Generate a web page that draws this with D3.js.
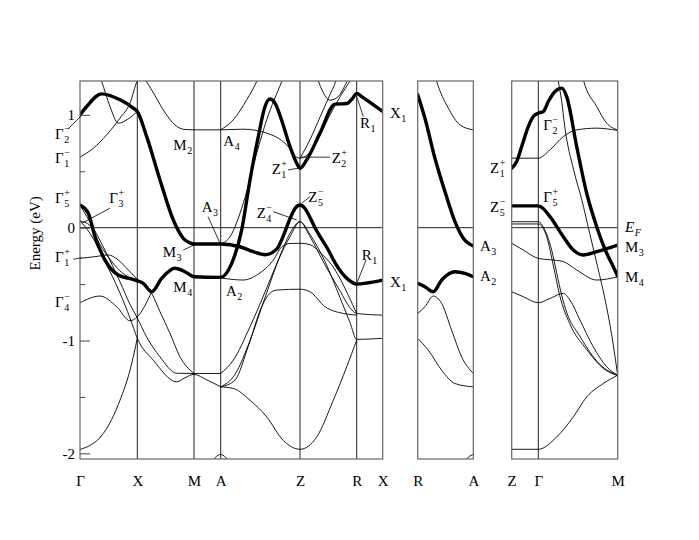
<!DOCTYPE html>
<html>
<head>
<meta charset="utf-8">
<script src="https://cdn.jsdelivr.net/npm/d3@7"></script>
<style>
  body { margin: 0; background: #fff; }
  text { font-family: "Liberation Serif", "Times New Roman", serif; fill: #000; }
</style>
</head>
<body>
<svg id="chart" width="699" height="540"></svg>
<script>
// high symmetry points along each path (k in path-length units)
const mainK = [0, 0.573, 1.14, 1.407, 2.20, 2.767, 3.027];
const mainKLabels = ["Γ", "X", "M", "A", "Z", "R", "X"];
const raK = [0, 1];
const raKLabels = ["R", "A"];
const zgmK = [0, 0.266, 1.06];
const zgmKLabels = ["Z", "Γ", "M"];

const energyMajor = [-2, -1, 0, 1];
const energyMinor = [-1.5, -0.5, 0.5];

// bands: [k, E (eV)]
const mainThick = [
  [[0,1.0],[0.067,1.074],[0.217,1.186],[0.40,1.133],[0.533,1.06],[0.573,1.029],[0.667,0.807],[0.80,0.423],[0.933,0.068],[1.033,-0.094],[1.10,-0.135],[1.14,-0.145],[1.407,-0.145],[1.60,-0.169],[1.733,-0.213],[1.85,-0.24],[1.967,-0.19],[2.03,-0.08],[2.10,0.08],[2.15,0.17],[2.20,0.201],[2.25,0.17],[2.30,0.09],[2.35,0.0],[2.483,-0.198],[2.55,-0.31],[2.617,-0.40],[2.683,-0.46],[2.767,-0.5],[2.883,-0.488],[3.027,-0.464]],
  [[0,0.2],[0.083,0.128],[0.15,-0.08],[0.25,-0.287],[0.383,-0.42],[0.55,-0.464],[0.633,-0.493],[0.717,-0.568],[0.817,-0.449],[0.95,-0.36],[1.05,-0.39],[1.14,-0.435],[1.407,-0.44],[1.517,-0.316],[1.617,-0.02],[1.70,0.423],[1.783,0.807],[1.85,1.074],[1.90,1.14],[1.95,1.104],[2.017,0.95],[2.10,0.719],[2.167,0.571],[2.20,0.527],[2.267,0.601],[2.40,0.838],[2.55,1.095],[2.667,1.10],[2.72,1.14],[2.767,1.19],[2.82,1.16],[2.90,1.11],[3.027,1.03]]
];
const mainThin = [
  [[0,0.625],[0.133,0.704],[0.267,0.823],[0.40,0.971],[0.50,1.104],[0.573,1.30],[0.62,1.34],[0.667,1.29],[0.75,1.17],[0.85,1.02],[0.95,0.91],[1.05,0.87],[1.14,0.867],[1.407,0.867],[1.633,0.873],[1.867,0.838],[2.067,0.734],[2.167,0.625],[2.20,0.616],[2.30,0.67],[2.40,0.82],[2.50,1.00],[2.60,1.16],[2.70,1.30],[2.75,1.37]],
  [[0.19,1.36],[0.217,1.295],[0.30,1.074],[0.383,0.926],[0.467,0.956],[0.573,1.029]],
  [[1.407,0.867],[1.533,0.956],[1.667,1.133],[1.767,1.295],[1.80,1.36]],
  [[1.407,-0.145],[1.50,-0.08],[1.633,0.217],[1.767,0.66],[1.867,0.956],[2.017,1.295],[2.05,1.37]],
  [[2.20,0.616],[2.30,0.78],[2.40,0.98],[2.50,1.18],[2.55,1.28],[2.58,1.37]],
  [[2.36,1.36],[2.42,1.22],[2.50,1.13],[2.58,1.16],[2.66,1.28],[2.70,1.36]],
  [[0,0.2],[0.1,0.05],[0.25,-0.2],[0.40,-0.48],[0.50,-0.68],[0.573,-0.8],[0.667,-0.97],[0.80,-1.145],[0.967,-1.29],[1.14,-1.292],[1.407,-1.292]],
  [[0,0.06],[0.1,-0.05],[0.25,-0.30],[0.40,-0.58],[0.50,-0.80],[0.573,-0.98],[0.733,-1.174],[0.967,-1.366],[1.05,-1.33],[1.14,-1.30],[1.27,-1.35],[1.407,-1.41]],
  [[0,0.06],[0.1,0.02],[0.2,-0.15],[0.3,-0.28],[0.45,-0.42],[0.573,-0.46]],
  [[0,-0.272],[0.15,-0.257],[0.283,-0.242],[0.383,-0.287],[0.483,-0.375],[0.583,-0.464],[0.717,-0.582],[0.80,-0.745],[0.90,-0.937],[1.0,-1.145],[1.14,-1.292]],
  [[0,-0.665],[0.2,-0.606],[0.367,-0.701],[0.50,-0.825],[0.573,-0.79],[0.717,-0.568]],
  [[0,-1.966],[0.233,-1.824],[0.40,-1.529],[0.50,-1.263],[0.573,-0.981]],
  [[1.407,-0.445],[1.633,-0.464],[1.767,-0.42],[1.933,-0.287],[2.017,-0.17],[2.10,-0.14],[2.20,-0.138],[2.30,-0.15],[2.40,-0.22],[2.517,-0.33],[2.60,-0.45],[2.683,-0.6],[2.767,-0.76]],
  [[1.407,-1.292],[1.533,-1.174],[1.70,-0.878],[1.90,-0.464],[1.983,-0.287],[2.10,-0.08],[2.20,0.053],[2.30,-0.06],[2.45,-0.30],[2.60,-0.62],[2.70,-0.84],[2.767,-0.99],[3.027,-0.98]],
  [[1.407,-1.411],[1.55,-1.30],[1.70,-1.0],[1.85,-0.62],[2.0,-0.25],[2.10,-0.05],[2.20,0.053],[2.30,-0.08],[2.45,-0.33],[2.60,-0.56],[2.70,-0.71],[2.767,-0.76],[3.027,-0.775]],
  [[1.407,-1.411],[1.55,-1.35],[1.683,-1.05],[1.817,-0.70],[1.90,-0.58],[1.967,-0.553],[2.20,-0.545],[2.30,-0.568],[2.45,-0.70],[2.633,-0.76],[2.767,-0.775]],
  [[1.407,-1.411],[1.533,-1.425],[1.70,-1.529],[1.867,-1.677],[2.033,-1.886],[2.20,-1.964],[2.367,-1.855],[2.533,-1.529],[2.667,-1.233],[2.767,-0.996]],
  [[1.33,-2.07],[1.35,-2.04],[1.38,-2.017],[1.407,-2.01],[1.43,-2.017],[1.46,-2.04],[1.48,-2.07]]
];

const raThick = [
  [[0,1.178],[0.13,0.97],[0.31,0.616],[0.49,0.32],[0.67,0.053],[0.82,-0.094],[1.0,-0.162]],
  [[0,-0.493],[0.13,-0.524],[0.28,-0.568],[0.43,-0.464],[0.67,-0.39],[0.85,-0.405],[1.0,-0.435]]
];
const raThin = [
  [[0.30,1.37],[0.34,1.30],[0.55,1.06],[0.76,0.911],[1.0,0.867]],
  [[0,-0.76],[0.13,-0.70],[0.28,-0.606],[0.43,-0.671],[0.61,-0.908],[0.79,-1.145],[1.0,-1.292]],
  [[0,-0.981],[0.19,-1.085],[0.43,-1.263],[0.67,-1.381],[1.0,-1.411]],
  [[0.85,-2.07],[0.92,-2.03],[1.0,-2.01]]
];

const zgmThick = [
  [[0,0.527],[0.05,0.586],[0.10,0.719],[0.166,0.896],[0.216,0.985],[0.266,1.015],[0.316,1.029],[0.366,1.118],[0.433,1.207],[0.50,1.237],[0.55,1.162],[0.65,0.719],[0.75,0.305],[0.85,0.009],[0.95,-0.227],[1.016,-0.346],[1.06,-0.43]],
  [[0,0.193],[0.266,0.193],[0.30,0.18],[0.383,0.098],[0.516,-0.08],[0.616,-0.198],[0.716,-0.242],[0.85,-0.213],[1.06,-0.154]]
];
const zgmThin = [
  [[0,0.616],[0.266,0.616],[0.383,0.69],[0.516,0.807],[0.65,0.867],[0.85,0.882],[1.06,0.861]],
  [[0.70,1.37],[0.72,1.30],[0.85,1.074],[0.95,0.926],[1.06,0.867]],
  [[0,0.053],[0.266,0.053],[0.32,0.0],[0.40,-0.20],[0.45,-0.40],[0.50,-0.60],[0.55,-0.75],[0.68,-0.96],[0.88,-1.21],[1.06,-1.31]],
  [[0,0.033],[0.266,0.033],[0.35,-0.08],[0.42,-0.35],[0.48,-0.60],[0.58,-0.85],[0.75,-1.08],[0.92,-1.25],[1.06,-1.31]],
  [[0.455,1.37],[0.466,1.30],[0.50,1.12],[0.53,0.90],[0.62,0.51],[0.70,0.25],[0.78,-0.05],[0.86,-0.35],[0.93,-0.62],[1.00,-0.95],[1.06,-1.31]],
  [[0,-0.138],[0.116,-0.198],[0.266,-0.272],[0.45,-0.29],[0.516,-0.30],[0.65,-0.375],[0.85,-0.464],[1.06,-0.435]],
  [[0,-0.568],[0.116,-0.612],[0.266,-0.665],[0.383,-0.627],[0.516,-0.582],[0.583,-0.642],[0.683,-0.819],[0.816,-1.056],[0.95,-1.233],[1.06,-1.307]],
  [[0,-1.964],[0.266,-1.964],[0.45,-1.855],[0.616,-1.677],[0.75,-1.5],[0.916,-1.381],[1.06,-1.307]]
];

// symmetry labels: [symbol, subscript, superscript, k, E]
const mainLabels = [
  ["Γ","2","−",-0.25,0.785], ["Γ","1","−",-0.25,0.575], ["Γ","5","+",-0.25,0.219],
  ["Γ","3","+",0.293,0.219], ["Γ","1","+",-0.25,-0.302], ["Γ","4","−",-0.25,-0.706],
  ["M","2","",0.933,0.689], ["A","4","",1.433,0.725], ["A","3","",1.217,0.142],
  ["M","3","",0.827,-0.257], ["M","4","",0.933,-0.568], ["A","2","",1.46,-0.606],
  ["Z","1","+",1.917,0.476], ["Z","2","+",2.517,0.571], ["Z","5","−",2.283,0.231],
  ["Z","4","−",1.767,0.083], ["R","1","",2.80,0.882], ["R","1","",2.817,-0.287],
  ["X","1","",3.10,0.971], ["X","1","",3.10,-0.524]
];
const mainPointers = [
  [-0.12,0.875,0.01,0.99], [0.30,0.173,0.02,0.04], [-0.067,-0.28,0.017,-0.266],
  [1.28,0.098,1.40,-0.138], [1.033,-0.198,1.14,-0.154], [2.08,0.512,2.20,0.53],
  [2.50,0.625,2.21,0.625], [2.30,0.275,2.217,0.216], [1.933,0.142,2.167,0.068],
  [2.833,0.985,2.767,1.162], [2.86,-0.287,2.77,-0.49]
];
const raLabels = [["A","3","",1.12,-0.207], ["A","2","",1.12,-0.473]];
const zgmLabels = [
  ["Z","1","+",-0.217,0.483], ["Z","5","−",-0.217,0.142],
  ["Γ","2","−",0.316,0.867], ["Γ","5","+",0.316,0.231],
  ["M","3","",1.133,-0.218], ["M","4","",1.133,-0.479]
];

const svg = d3.select("#chart");
const y = d3.scaleLinear().domain([-2.05, 1.30]).range([459, 81]);

const panels = [
  { id: "p1", k: mainK, names: mainKLabels, range: [80, 382.7], thick: mainThick, thin: mainThin, labels: mainLabels, pointers: mainPointers },
  { id: "p2", k: raK, names: raKLabels, range: [417.7, 473.3], thick: raThick, thin: raThin, labels: raLabels, pointers: [] },
  { id: "p3", k: zgmK, names: zgmKLabels, range: [511.7, 617.7], thick: zgmThick, thin: zgmThin, labels: zgmLabels, pointers: [] }
];

function symLabel(g, x, yy, main, sub, sup, italic) {
  const t = g.append("text").attr("x", x).attr("y", yy)
    .attr("font-size", 15).text(main);
  if (italic) t.attr("font-style", "italic");
  const w = t.node().getComputedTextLength();
  if (sup) g.append("text").attr("x", x + w + 0.5).attr("y", yy - 7)
    .attr("font-size", 10).text(sup);
  if (sub) {
    const s = g.append("text").attr("x", x + w + 0.5).attr("y", yy + 4)
      .attr("font-size", 10).text(sub);
    if (italic) s.attr("font-style", "italic");
  }
}

panels.forEach(p => {
  const x = d3.scaleLinear().domain([p.k[0], p.k[p.k.length - 1]]).range(p.range);
  const g = svg.append("g");

  svg.append("clipPath").attr("id", "clip-" + p.id)
    .append("rect")
    .attr("x", p.range[0]).attr("y", y(1.30))
    .attr("width", p.range[1] - p.range[0]).attr("height", y(-2.05) - y(1.30));

  // Fermi level
  g.append("line")
    .attr("x1", p.range[0]).attr("x2", p.range[1])
    .attr("y1", y(0)).attr("y2", y(0))
    .attr("stroke", "#222").attr("stroke-width", 1);

  // high symmetry verticals
  g.selectAll(".kline").data(p.k.slice(1, -1)).enter().append("line")
    .attr("x1", d => x(d)).attr("x2", d => x(d))
    .attr("y1", y(1.30)).attr("y2", y(-2.05))
    .attr("stroke", "#222").attr("stroke-width", 1);

  const line = d3.line()
    .x(d => x(d[0])).y(d => y(d[1]))
    .curve(d3.curveMonotoneX);

  const bands = g.append("g").attr("clip-path", "url(#clip-" + p.id + ")");
  bands.selectAll(".thin").data(p.thin).enter().append("path")
    .attr("d", line).attr("fill", "none")
    .attr("stroke", "#000").attr("stroke-width", 0.9);
  bands.selectAll(".thick").data(p.thick).enter().append("path")
    .attr("d", line).attr("fill", "none")
    .attr("stroke", "#000").attr("stroke-width", 3.4)
    .attr("stroke-linejoin", "round").attr("stroke-linecap", "round");

  // frame
  g.append("rect")
    .attr("x", p.range[0]).attr("y", y(1.30))
    .attr("width", p.range[1] - p.range[0]).attr("height", y(-2.05) - y(1.30))
    .attr("fill", "none").attr("stroke", "#666").attr("stroke-width", 1.2);

  // path labels
  const ax = g.append("g")
    .attr("transform", `translate(0,${y(-2.05)})`)
    .call(d3.axisBottom(x).tickValues(p.k).tickFormat((d, i) => p.names[i])
      .tickSize(0).tickPadding(16));
  ax.select(".domain").remove();
  ax.selectAll("text").attr("font-size", 15)
    .attr("font-family", "Liberation Serif, Times New Roman, serif");

  p.pointers.forEach(q => {
    g.append("line")
      .attr("x1", x(q[0])).attr("y1", y(q[1]))
      .attr("x2", x(q[2])).attr("y2", y(q[3]))
      .attr("stroke", "#000").attr("stroke-width", 0.8);
  });

  p.labels.forEach(l => symLabel(g, x(l[3]), y(l[4]), l[0], l[1], l[2]));

  if (p.id === "p3") symLabel(g, x(1.133), y(-0.035), "E", "F", "", true);
});

// energy axis
const major = svg.append("g").attr("transform", "translate(80,0)")
  .call(d3.axisLeft(y).tickValues(energyMajor).tickFormat(d => d === 0 ? "0" : String(d))
    .tickSizeInner(-10).tickSizeOuter(0).tickPadding(5));
major.select(".domain").remove();
major.selectAll("line").attr("stroke", "#444");
major.selectAll("text").attr("font-size", 15)
  .attr("font-family", "Liberation Serif, Times New Roman, serif");

const minor = svg.append("g").attr("transform", "translate(80,0)")
  .call(d3.axisLeft(y).tickValues(energyMinor).tickFormat("")
    .tickSizeInner(-5).tickSizeOuter(0));
minor.select(".domain").remove();
minor.selectAll("line").attr("stroke", "#444");

svg.append("text")
  .attr("transform", `translate(40,${y(-0.05)}) rotate(-90)`)
  .attr("text-anchor", "middle")
  .attr("font-size", 15)
  .text("Energy (eV)");
</script>
</body>
</html>
